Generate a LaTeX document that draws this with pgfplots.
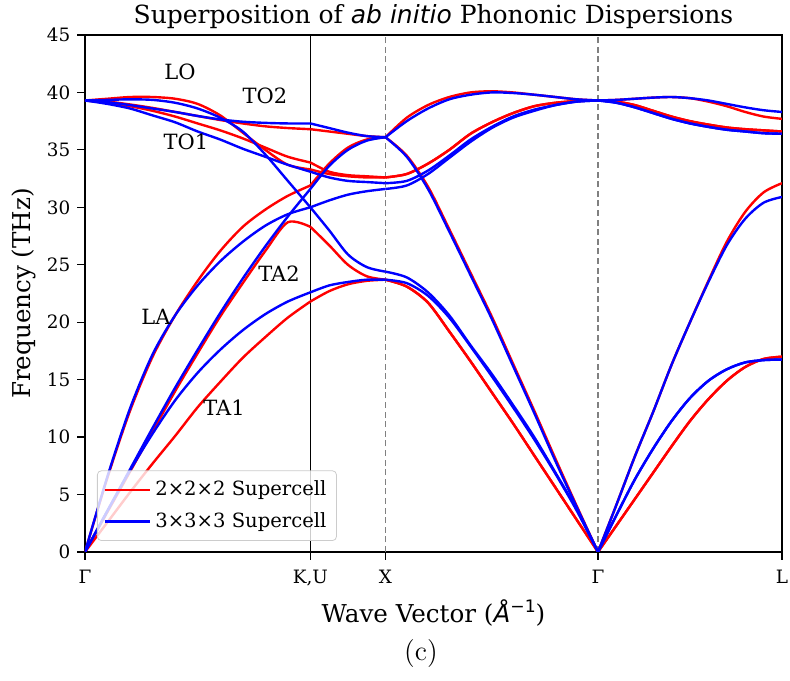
\documentclass[border=0pt]{standalone}
\usepackage{pgfplots}
\pgfplotsset{compat=1.18}
\usepackage{pgfplotstable}
\usetikzlibrary{calc}
\usepackage{fontspec}
\setmainfont{DejaVu Serif}
\newfontfamily\dvsans{DejaVu Sans}
\newfontfamily\lmfont{Latin Modern Roman}

% columns: acoustic 1, acoustic 2, acoustic 3, optical 1, optical 2, optical 3
\pgfplotstableread{
x      A      B      C      D      E      F
0      0      0      0      39.3   39.3   39.3
0.1061 2.6    3.5    6.5    39.45  39.1   39.2
0.2121 5.2    7.0    12.3   39.6   38.8   38.95
0.3182 7.7    10.5   17.0   39.6   38.4   38.65
0.4243 10.1   14.0   20.6   39.45  37.9   38.3
0.5303 12.6   17.3   23.6   39.0   37.3   37.95
0.6364 14.8   20.5   26.2   38.0   36.7   37.6
0.7425 16.9   23.4   28.3   36.5   36.0   37.3
0.8485 18.7   26.2   29.8   35.0   35.2   37.05
0.9546 20.4   28.7   31.0   33.7   34.4   36.9
1.0607 21.8   28.3   31.9   33.3   33.9   36.8
}\RGK
\pgfplotstableread{
x      A      B      C      D      E      F
1.0607 21.8   28.3   31.9   33.3   33.9   36.8
1.1491 22.7   26.7   33.8   32.9   33.1   36.6
1.2374 23.3   25.0   35.2   32.7   32.8   36.4
1.3258 23.6   24.0   35.9   32.6   32.7   36.2
1.4142 23.7   23.7   36.1   32.6   32.6   36.1
}\RKX
\pgfplotstableread{
x      A      B      C      D      E      F
1.4142 23.7   23.7   36.1   32.6   32.6   36.1
1.5142 23.1   23.1   34.5   32.9   32.9   37.8
1.6142 21.7   21.7   31.8   33.8   33.8   38.9
1.7142 19.2   19.2   28.1   35.0   35.0   39.6
1.8142 16.6   16.6   24.3   36.4   36.4   40.0
1.9142 13.9   13.9   20.5   37.4   37.4   40.1
2.0142 11.2   11.2   16.4   38.2   38.2   40.0
2.1142 8.4    8.4    12.3   38.8   38.8   39.8
2.2142 5.6    5.6    8.1    39.1   39.1   39.6
2.3142 2.8    2.8    4.0    39.25  39.25  39.4
2.4142 0      0      0      39.3   39.3   39.3
}\RXG
\pgfplotstableread{
x      A      B      C      D      E      F
2.4142 0      0      0      39.3   39.3   39.3
2.5008 2.3    2.3    4.1    39.2   39.2   39.35
2.5874 4.6    4.6    8.3    38.9   38.9   39.45
2.6740 6.9    6.9    12.2   38.4   38.4   39.55
2.7606 9.2    9.2    16.3   37.9   37.9   39.6
2.8472 11.4   11.4   20.0   37.5   37.5   39.5
2.9338 13.3   13.3   23.6   37.2   37.2   39.2
3.0204 14.9   14.9   27.0   36.95  36.95  38.8
3.1070 16.1   16.1   29.6   36.8   36.8   38.3
3.1936 16.8   16.8   31.3   36.7   36.7   37.9
3.2802 17.0   17.0   32.1   36.6   36.6   37.7
}\RGL

\pgfplotstableread{
x      A      B      C      D      E      F
0      0      0      0      39.3   39.3   39.3
0.1061 3.6    3.6    6.6    39.35  39.0   39.15
0.2121 7.1    7.2    12.5   39.4   38.6   38.9
0.3182 10.3   10.8   17.2   39.35  38.0   38.6
0.4243 13.2   14.3   20.6   39.1   37.4   38.3
0.5303 15.6   17.6   23.2   38.6   36.6   37.95
0.6364 17.6   20.8   25.3   37.8   35.9   37.65
0.7425 19.3   23.8   27.0   36.6   35.1   37.45
0.8485 20.7   26.6   28.4   34.6   34.4   37.35
0.9546 21.8   29.2   29.4   32.3   33.7   37.3
1.0607 22.6   31.6   30.0   30.0   33.1   37.3
}\BGK
\pgfplotstableread{
x      A      B      C      D      E      F
1.0607 22.6   31.6   30.0   30.0   33.1   37.3
1.1491 23.2   33.6   30.6   28.0   32.6   36.9
1.2374 23.5   35.0   31.1   25.9   32.3   36.5
1.3258 23.7   35.8   31.4   24.8   32.2   36.2
1.4142 23.7   36.1   31.6   24.4   32.1   36.1
}\BKX
\pgfplotstableread{
x      A      B      C      D      E      F
1.4142 23.7   36.1   31.6   24.4   32.1   36.1
1.5142 23.4   34.4   31.9   23.9   32.3   37.5
1.6142 22.3   31.6   32.9   22.6   33.2   38.6
1.7142 20.4   27.9   34.3   20.6   34.5   39.4
1.8142 17.9   24.1   35.7   18.0   35.9   39.8
1.9142 15.3   20.3   36.9   15.5   37.0   40.0
2.0142 12.6   16.2   37.8   12.8   37.9   39.95
2.1142 9.8    12.1   38.4   10.0   38.5   39.8
2.2142 6.8    7.9    38.9   6.9    38.9   39.6
2.3142 3.6    3.9    39.2   3.7    39.2   39.4
2.4142 0      0      39.3   0      39.3   39.3
}\BXG
\pgfplotstableread{
x      A      B      C      D      E      F
2.4142 0      0      39.3   0      39.3   39.3
2.5008 3.2    4.1    39.1   3.2    39.1   39.35
2.5874 6.3    8.3    38.7   6.3    38.7   39.45
2.6740 9.0    12.2   38.2   9.0    38.2   39.55
2.7606 11.4   16.3   37.7   11.4   37.7   39.6
2.8472 13.4   20.0   37.3   13.4   37.3   39.5
2.9338 14.9   23.5   37.0   14.9   37.0   39.3
3.0204 15.9   26.7   36.75  15.9   36.75  39.0
3.1070 16.5   29.0   36.6   16.5   36.6   38.7
3.1936 16.7   30.4   36.45  16.7   36.45  38.45
3.2802 16.75  30.9   36.4   16.75  36.4   38.3
}\BGL

\begin{document}
\begin{tikzpicture}
\begin{axis}[
  name=ax,
  scale only axis,
  width=348.5pt, height=258.5pt,
  xmin=0, xmax=3.2802, ymin=0, ymax=45,
  ytick={0,5,...,45},
  xtick={0,1.0607,1.4142,2.4142,3.2802},
  xticklabels={Γ,{K,U},X,Γ,L},
  tick align=outside,
  xtick pos=bottom, ytick pos=left,
  major tick length=3.8pt,
  tick style={black, line width=0.6pt},
  axis line style={line width=0.7pt},
  ticklabel style={font=\fontsize{9.2}{11}\selectfont},
  xticklabel style={yshift=-1.5pt},
  /pgf/number format/assume math mode=true,
  title={Superposition of {\dvsans\itshape ab initio} Phononic Dispersions},
  every axis title/.style={font=\fontsize{12.5}{14}\selectfont, at={(0.5,1)}, anchor=base, yshift=5.5pt},
  xlabel={Wave Vector ({\dvsans\itshape Å}\raisebox{0.85ex}{\dvsans\fontsize{8.6}{9}\selectfont −1})},
  every axis x label/.style={font=\fontsize{12.3}{14}\selectfont, at={(0.5,-0.1373)}, anchor=base},
  ylabel={Frequency (THz)},
  every axis y label/.style={font=\fontsize{12.3}{14}\selectfont, at={(-0.0875,0.5)}, anchor=center, rotate=90},
  legend style={at={(axis description cs:0.0172,0.0213)}, anchor=south west,
    rounded corners=2pt, draw=black!20, fill=white, fill opacity=0.8, text opacity=1,
    font=\fontsize{9.8}{12}\selectfont, row sep=3pt, inner xsep=3pt, inner ysep=3pt},
  legend cell align=left,
  legend image code/.code={\draw[#1] (0cm,0cm) -- (0.8cm,0cm);},
]
\addplot[black, line width=0.8pt, forget plot] coordinates {(1.0607,0) (1.0607,45)};
\addplot[gray, line width=0.6pt, dash pattern=on 3pt off 1.8pt, forget plot] coordinates {(1.4142,0) (1.4142,45)};
\addplot[gray, line width=0.6pt, dash pattern=on 3pt off 1.8pt, forget plot] coordinates {(2.4142,0) (2.4142,45)};

\pgfplotsinvokeforeach{A,B,C,D,E,F}{
  \addplot[red, line width=1.2pt, smooth, forget plot] table[x=x, y=#1] {\RGK};
  \addplot[red, line width=1.2pt, smooth, forget plot] table[x=x, y=#1] {\RKX};
  \addplot[red, line width=1.2pt, smooth, forget plot] table[x=x, y=#1] {\RXG};
  \addplot[red, line width=1.2pt, smooth, forget plot] table[x=x, y=#1] {\RGL};
}
\pgfplotsinvokeforeach{A,B,C,D,E,F}{
  \addplot[blue, line width=1.2pt, smooth, forget plot] table[x=x, y=#1] {\BGK};
  \addplot[blue, line width=1.2pt, smooth, forget plot] table[x=x, y=#1] {\BKX};
  \addplot[blue, line width=1.2pt, smooth, forget plot] table[x=x, y=#1] {\BXG};
  \addplot[blue, line width=1.2pt, smooth, forget plot] table[x=x, y=#1] {\BGL};
}
\addlegendimage{red, line width=1.2pt}
\addlegendentry{2×2×2 Supercell}
\addlegendimage{blue, line width=1.2pt}
\addlegendentry{3×3×3 Supercell}

\node[font=\fontsize{10.5}{12}\selectfont] at (axis cs:0.447,41.8) {LO};
\node[font=\fontsize{10.5}{12}\selectfont] at (axis cs:0.847,39.7) {TO2};
\node[font=\fontsize{10.5}{12}\selectfont] at (axis cs:0.475,35.7) {TO1};
\node[font=\fontsize{10.5}{12}\selectfont] at (axis cs:0.913,24.2) {TA2};
\node[font=\fontsize{10.5}{12}\selectfont] at (axis cs:0.334,20.5) {LA};
\node[font=\fontsize{10.5}{12}\selectfont] at (axis cs:0.654,12.6) {TA1};
\end{axis}
\path (ax.south) ++(-6.25pt,-54.5pt) node[anchor=base, font=\lmfont\fontsize{14}{16}\selectfont] {(c)};
\pgfresetboundingbox
\path[use as bounding box] (ax.south west) ++(-42.5pt,-64.5pt) rectangle ($(ax.north east)+(4pt,17.5pt)$);
\end{tikzpicture}
\end{document}
